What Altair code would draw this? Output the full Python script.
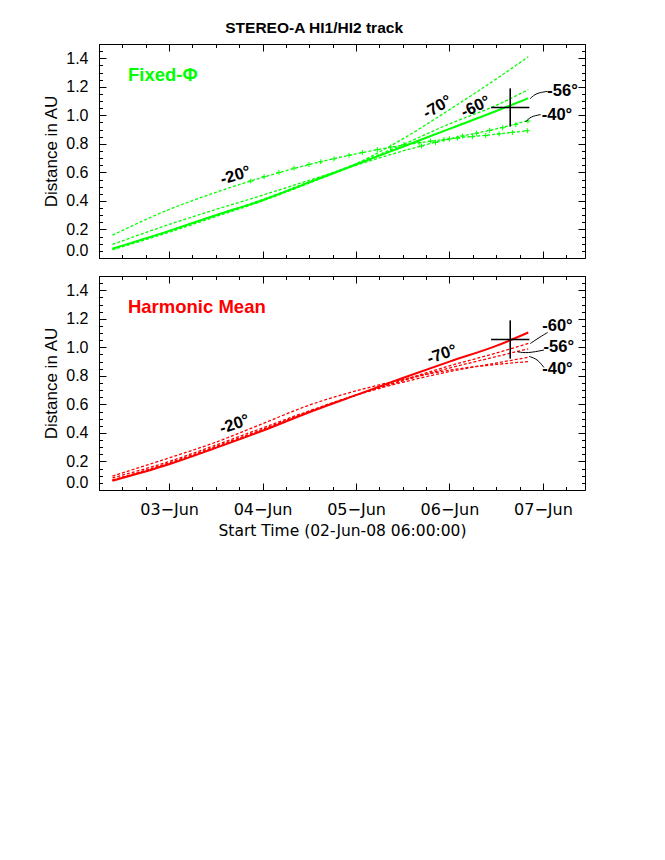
import altair as alt
import pandas as pd

chart_title = "STEREO-A HI1/HI2 track"
x_title = "Start Time (02-Jun-08 06:00:00)"
y_title = "Distance in AU"

# time axis: fractional day of June 2008
days = [2.394, 3.0, 3.5, 4.0, 4.5, 5.0, 5.5, 6.0, 6.5, 6.843]
angles = ["-20°", "-40°", "-56°", "-60°", "-70°"]

# Fixed-Phi tracks (AU)
fixed_m20 = [0.160, 0.340, 0.460, 0.565, 0.655, 0.730, 0.790, 0.835, 0.868, 0.893]
fixed_m40 = [0.095, 0.235, 0.340, 0.440, 0.545, 0.650, 0.750, 0.835, 0.905, 0.963]
fixed_m56 = [0.065, 0.190, 0.300, 0.405, 0.530, 0.655, 0.780, 0.905, 1.030, 1.120]
fixed_m60 = [0.063, 0.190, 0.300, 0.410, 0.535, 0.660, 0.795, 0.940, 1.070, 1.180]
fixed_m70 = [0.058, 0.180, 0.290, 0.400, 0.525, 0.660, 0.835, 1.040, 1.255, 1.410]

# Harmonic Mean tracks (AU)
harm_m20 = [0.098, 0.225, 0.335, 0.465, 0.595, 0.695, 0.775, 0.840, 0.880, 0.900]
harm_m40 = [0.085, 0.200, 0.315, 0.435, 0.555, 0.665, 0.755, 0.830, 0.890, 0.930]
harm_m56 = [0.070, 0.190, 0.305, 0.425, 0.550, 0.665, 0.765, 0.855, 0.935, 0.990]
harm_m60 = [0.068, 0.185, 0.300, 0.420, 0.548, 0.665, 0.770, 0.870, 0.960, 1.027]
harm_m70 = [0.065, 0.180, 0.295, 0.415, 0.545, 0.665, 0.785, 0.900, 1.010, 1.104]

# data-point markers visible on the Fixed-Phi -20 and -40 tracks
m20_marker_days = [3.873, 4.016, 4.176, 4.337, 4.497, 4.622, 4.765, 4.925, 5.068, 5.228, 5.371,
                   5.513, 5.674, 5.798, 5.941, 6.084, 6.245, 6.388, 6.531, 6.673, 6.832]
m20_marker_vals = [0.540, 0.570, 0.600, 0.630, 0.655, 0.675, 0.695, 0.720, 0.740, 0.760, 0.778,
                   0.795, 0.810, 0.820, 0.830, 0.840, 0.850, 0.858, 0.870, 0.880, 0.892]
m40_marker_days = [5.70, 5.85, 6.00, 6.14, 6.29, 6.43, 6.57, 6.71, 6.84]
m40_marker_vals = [0.785, 0.810, 0.835, 0.855, 0.875, 0.895, 0.913, 0.935, 0.960]

# in-situ arrival cross (time +- err, distance +- err)
cross_day = [6.65]
cross_day_err = [0.205]
cross_dist = [1.055]
cross_dist_err = [0.134]

tick_days = [3, 4, 5, 6, 7]
tick_labels = ["03\u2212Jun", "04\u2212Jun", "05\u2212Jun", "06\u2212Jun", "07\u2212Jun"]

# annotation texts
top_label_text = ["-20°", "-70°", "-60°", "-56°", "-40°"]
top_label_day = [3.71, 5.87, 6.28, 7.21, 7.15]
top_label_dist = [0.578, 1.058, 1.060, 1.168, 1.000]
top_label_angle = [343, 330, 335, 0, 0]
bot_label_text = ["-20°", "-70°", "-60°", "-56°", "-40°"]
bot_label_day = [3.70, 5.92, 7.155, 7.17, 7.155]
bot_label_dist = [0.460, 0.950, 1.151, 0.999, 0.848]
bot_label_angle = [341, 341, 0, 0, 0]

top_leader_id = ["a", "a", "a", "b", "b", "b"]
top_leader_day = [6.864, 6.925, 7.050, 6.815, 6.870, 6.975]
top_leader_dist = [1.117, 1.156, 1.168, 0.953, 0.993, 1.005]
bot_leader_id = ["a", "a", "a", "b", "b", "b", "c", "c", "c"]
bot_leader_day = [6.865, 6.960, 7.050, 6.726, 6.833, 7.010, 6.853, 6.940, 7.010]
bot_leader_dist = [1.027, 1.069, 1.104, 0.969, 0.958, 0.981, 0.936, 0.918, 0.859]

GREEN = "#00ff00"
RED = "#ff0000"
FONT = "Liberation Sans"


def tracks(series):
    rows = []
    for ang, vals in zip(angles, series):
        for d, v in zip(days, vals):
            rows.append({"angle": ang, "day": d, "dist": v})
    return pd.DataFrame(rows)


x_scale = alt.Scale(domain=[2.25, 7.45], nice=False, zero=False)
y_scale = alt.Scale(domain=[0, 1.5], nice=False, zero=False)

x_minor = [2.25 + 0.25 * i for i in range(21) if i % 4 != 3]
y_major = [round(0.2 * i, 2) for i in range(8)]
y_minor = [round(0.05 * i, 2) for i in range(31) if i % 4 != 0]

label_expr = " : ".join(
    f"datum.value == {d} ? '{t}'" for d, t in zip(tick_days, tick_labels)) + " : ''"

MAJ = 7
MIN = 3.5


def axis(orient, values, size, **kw):
    return alt.Axis(orient=orient, values=values, tickSize=size, offset=-size,
                    domain=False, grid=False, ticks=True, tickColor="black",
                    tickWidth=1, minExtent=0, **kw)


def panel(series, solid_angle, markers, labels, leaders, name, color, show_x):
    df = tracks(series)
    solid = df[df.angle == solid_angle]
    dashed = df[df.angle != solid_angle]

    if show_x:
        xb = axis("bottom", tick_days, MAJ, labels=True, labelExpr=label_expr,
                  labelFont="DejaVu Sans", labelFontSize=16, labelPadding=11,
                  labelFlush=False, titleFont="DejaVu Sans", titleFontSize=15.5,
                  titleFontWeight="normal", titlePadding=6)
        xt = x_title
    else:
        xb = axis("bottom", tick_days, MAJ, labels=False)
        xt = None
    yl = axis("left", y_major, MAJ, labels=True, format=".1f", labelFlush=True,
              labelPadding=11, labelFont=FONT, labelFontSize=16,
              titleFont=FONT, titleFontSize=17, titleFontWeight="normal", titlePadding=5)

    l1 = alt.Chart(solid).mark_line(color=color, strokeWidth=2, interpolate="monotone").encode(
        x=alt.X("day:Q", scale=x_scale, axis=xb, title=xt),
        y=alt.Y("dist:Q", scale=y_scale, axis=yl, title=y_title),
        detail="angle:N")
    l2 = alt.Chart(dashed).mark_line(color=color, strokeWidth=1.3, strokeDash=[3, 2],
                                     interpolate="monotone").encode(
        x=alt.X("day:Q", scale=x_scale, axis=axis("bottom", x_minor, MIN, labels=False), title=None),
        y=alt.Y("dist:Q", scale=y_scale, axis=axis("left", y_minor, MIN, labels=False), title=None),
        detail="angle:N")

    cross = pd.DataFrame({
        "day": cross_day, "dist": cross_dist,
        "dlo": [d - e for d, e in zip(cross_day, cross_day_err)],
        "dhi": [d + e for d, e in zip(cross_day, cross_day_err)],
        "rlo": [r - e for r, e in zip(cross_dist, cross_dist_err)],
        "rhi": [r + e for r, e in zip(cross_dist, cross_dist_err)],
    })
    l3 = alt.Chart(cross).mark_rule(color="black", strokeWidth=1.6).encode(
        x=alt.X("day:Q", scale=x_scale, axis=axis("top", tick_days, MAJ, labels=False), title=None),
        y=alt.Y("rlo:Q", scale=y_scale, axis=axis("right", y_major, MAJ, labels=False), title=None),
        y2="rhi:Q")
    l4 = alt.Chart(cross).mark_rule(color="black", strokeWidth=1.6).encode(
        x=alt.X("dlo:Q", scale=x_scale, axis=axis("top", x_minor, MIN, labels=False), title=None),
        x2="dhi:Q",
        y=alt.Y("dist:Q", scale=y_scale, axis=axis("right", y_minor, MIN, labels=False), title=None))

    layers = [l1, l2, l3, l4]
    if markers is not None:
        layers.append(alt.Chart(markers).mark_point(
            shape="M-1,0L1,0M0,-1L0,1", filled=False, color=color, strokeWidth=1, size=25,
            opacity=1).encode(
            x=alt.X("day:Q", scale=x_scale, axis=None),
            y=alt.Y("dist:Q", scale=y_scale, axis=None)))
    layers.append(alt.Chart(leaders).mark_line(color="black", strokeWidth=1, interpolate="basis").encode(
        x=alt.X("day:Q", scale=x_scale, axis=None),
        y=alt.Y("dist:Q", scale=y_scale, axis=None),
        detail="id:N"))
    layers.append(alt.Chart(labels).mark_text(font=FONT, fontSize=16.5, fontWeight="bold",
                                              color="black", align="center", baseline="middle").encode(
        x=alt.X("day:Q", scale=x_scale, axis=None),
        y=alt.Y("dist:Q", scale=y_scale, axis=None),
        text="text:N",
        angle=alt.Angle("angle:Q", scale=None)))
    layers.append(alt.Chart(pd.DataFrame({"text": [name], "day": [2.56], "dist": [1.285]})).mark_text(
        font=FONT, fontSize=18.5, fontWeight="bold", color=color, align="left", baseline="middle").encode(
        x=alt.X("day:Q", scale=x_scale, axis=None),
        y=alt.Y("dist:Q", scale=y_scale, axis=None),
        text="text:N"))

    return alt.layer(*layers).resolve_axis(x="independent", y="independent").properties(
        width=486, height=214)


top_markers = pd.DataFrame({
    "day": m20_marker_days + m40_marker_days,
    "dist": m20_marker_vals + m40_marker_vals})
top_labels = pd.DataFrame({"text": top_label_text, "day": top_label_day,
                           "dist": top_label_dist, "angle": top_label_angle})
bot_labels = pd.DataFrame({"text": bot_label_text, "day": bot_label_day,
                           "dist": bot_label_dist, "angle": bot_label_angle})
top_leaders = pd.DataFrame({"id": top_leader_id, "day": top_leader_day, "dist": top_leader_dist})
bot_leaders = pd.DataFrame({"id": bot_leader_id, "day": bot_leader_day, "dist": bot_leader_dist})

top = panel([fixed_m20, fixed_m40, fixed_m56, fixed_m60, fixed_m70], "-56°",
            top_markers, top_labels, top_leaders, "Fixed-\u03a6", GREEN, False)
bottom = panel([harm_m20, harm_m40, harm_m56, harm_m60, harm_m70], "-70°",
               None, bot_labels, bot_leaders, "Harmonic Mean", RED, True)

chart = alt.vconcat(top, bottom, spacing=16).properties(
    title=alt.TitleParams(chart_title, font=FONT, fontSize=15.5, fontWeight="bold",
                          anchor="middle", color="black", offset=7),
    padding={"left": 34, "top": 12, "right": 5, "bottom": 5},
).configure_view(stroke="black", strokeWidth=1)

chart.save("out.html", embed_options={"renderer": "svg", "actions": False})
